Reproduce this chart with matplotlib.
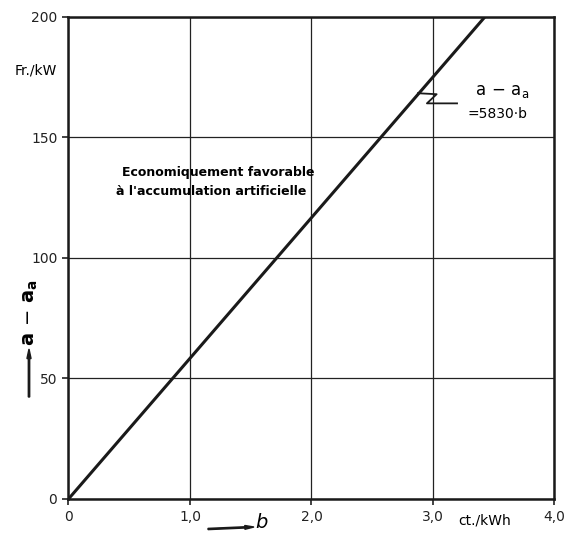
import numpy as np
import matplotlib.pyplot as plt

# values
b_vals = [0.0, 3.43]           # ct./kWh
cost_vals = [0.0, 200.0]       # Fr./kW  (a - a_a = 5830 b)
x_ticks = [0, 1, 2, 3, 4]
x_tick_labels = ['0', '1,0', '2,0', '3,0', '4,0']
y_ticks = [0, 50, 100, 150, 200]
y_tick_labels = ['0', '50', '100', '150', '200']

plt.rcParams['font.family'] = ['DejaVu Sans']
plt.rcParams['mathtext.fontset'] = 'dejavusans'

fig = plt.figure(figsize=(5.74, 5.33), dpi=100)
ax = fig.add_axes([0.1193, 0.0638, 0.8467, 0.9052])

ax.plot(b_vals, cost_vals, color='#1a1a1a', lw=2.2, solid_capstyle='butt')

ax.set_xlim(0, 4)
ax.set_ylim(0, 200)
ax.set_xticks(x_ticks)
ax.set_xticklabels(x_tick_labels)
ax.set_yticks(y_ticks)
ax.set_yticklabels(y_tick_labels)
ax.grid(True, color='#222222', lw=0.9)
ax.tick_params(direction='out', length=4, width=1.2, labelsize=10,
               colors='#222222', pad=4)
for s in ax.spines.values():
    s.set_linewidth(1.8)
    s.set_color('#1a1a1a')

# zigzag leader to the line label
ax.plot([2.876, 3.03, 2.95, 3.198], [168.2, 167.8, 164.0, 164.0],
        color='#1a1a1a', lw=1.3, clip_on=False)
ax.text(3.57, 169, r'$\mathrm{a}\,-\,\mathrm{a}_{\mathrm{a}}$', ha='center',
        va='center', fontsize=12)
ax.text(3.53, 159.5, '=5830·b', ha='center', va='center', fontsize=10)

ax.text(0.44, 135.5, 'Economiquement favorable', fontsize=9, fontweight='bold',
        ha='left', va='center')
ax.text(0.39, 127.3, "à l'accumulation artificielle", fontsize=9,
        fontweight='bold', ha='left', va='center')

# units
fig.text(15 / 574, 1 - 71 / 533, 'Fr./kW', fontsize=10, ha='left', va='center')
fig.text(458 / 574, 1 - 520 / 533, 'ct./kWh', fontsize=10, ha='left', va='center')

# axis symbols with arrows
fig.text(30 / 574, 1 - 313 / 533, r'$\mathbf{a}\,-\,\mathbf{a}_{\mathbf{a}}$',
         rotation=90, fontsize=14, ha='center', va='center')
fig.patches.append(plt.Arrow(29 / 574, 1 - 397 / 533, 0, 48 / 533,
                             width=0.012, color='#1a1a1a', transform=fig.transFigure))
fig.patches.append(plt.Arrow(208 / 574, 1 - 529 / 533, 46 / 574, 2 / 533,
                             width=0.012, color='#1a1a1a', transform=fig.transFigure))
fig.text(262 / 574, 1 - 522 / 533, r'$b$', fontsize=14, ha='center', va='center')

fig.savefig('out.png', dpi=100)
